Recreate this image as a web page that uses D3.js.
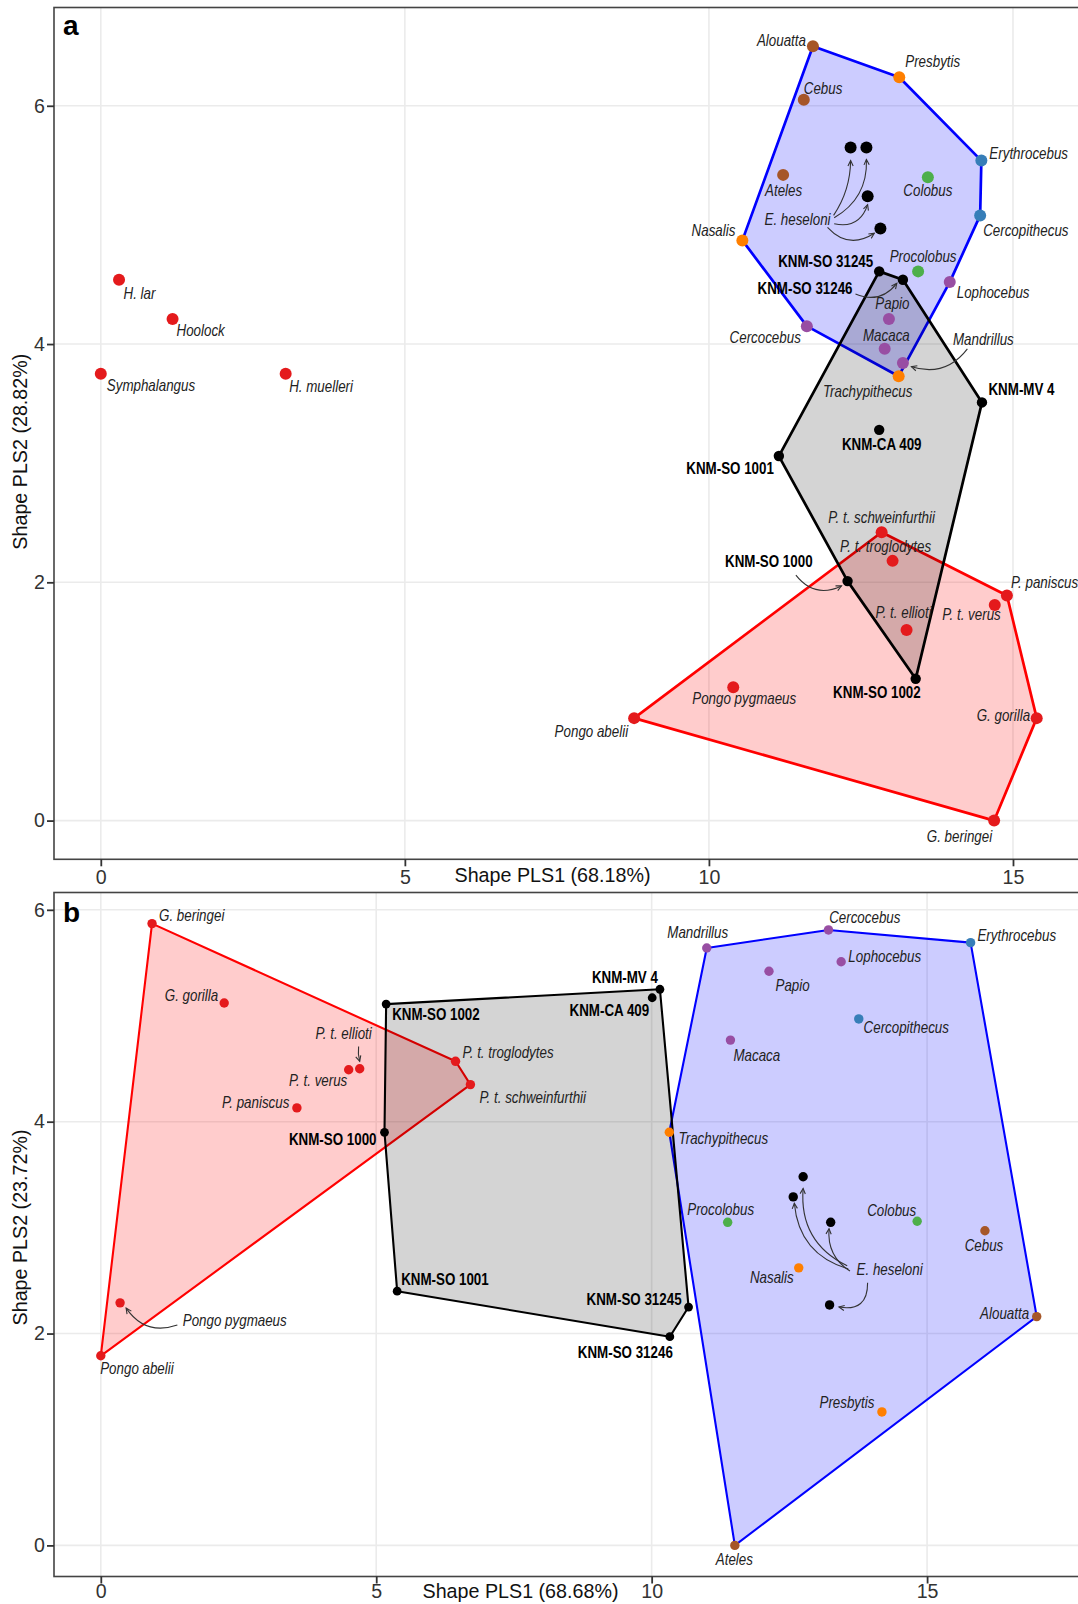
<!DOCTYPE html>
<html>
<head>
<meta charset="utf-8">
<script src="https://cdn.jsdelivr.net/npm/d3@7"></script>
<style>
  html, body { margin: 0; padding: 0; background: #ffffff; }
  svg { display: block; }
</style>
</head>
<body>
<svg id="fig" width="1078" height="1604"></svg>
<script>
// ---------------- Panel a: Shape PLS scores ----------------
const taxaA = [
  "H. lar", "Hoolock", "Symphalangus", "H. muelleri",
  "Pongo abelii", "Pongo pygmaeus", "G. gorilla", "G. beringei", "P. paniscus",
  "P. t. verus", "P. t. ellioti", "P. t. troglodytes", "P. t. schweinfurthii",
  "Alouatta", "Cebus", "Ateles",
  "Presbytis", "Nasalis", "Trachypithecus", "Colobus", "Procolobus",
  "Erythrocebus", "Cercopithecus",
  "Lophocebus", "Papio", "Cercocebus", "Macaca", "Mandrillus",
  "E. heseloni", "E. heseloni", "E. heseloni", "E. heseloni",
  "KNM-SO 31245", "KNM-SO 31246", "KNM-MV 4", "KNM-CA 409",
  "KNM-SO 1001", "KNM-SO 1000", "KNM-SO 1002"
];
const pls1A = [
  0.30, 1.18, 0.00, 3.04,
  8.77, 10.40, 15.39, 14.69, 14.90,
  14.70, 13.25, 13.02, 12.84,
  11.71, 11.56, 11.22,
  13.13, 10.55, 13.12, 13.60, 13.44,
  14.48, 14.46,
  13.96, 12.96, 11.61, 12.89, 13.19,
  12.33, 12.59, 12.61, 12.82,
  12.80, 13.19, 14.49, 12.80,
  11.15, 12.28, 13.40
];
const pls2A = [
  4.54, 4.21, 3.75, 3.75,
  0.86, 1.12, 0.86, 0.00, 1.89,
  1.81, 1.60, 2.18, 2.42,
  6.50, 6.05, 5.42,
  6.24, 4.87, 3.73, 5.40, 4.61,
  5.54, 5.08,
  4.52, 4.21, 4.15, 3.96, 3.84,
  5.65, 5.65, 5.24, 4.97,
  4.61, 4.54, 3.51, 3.28,
  3.06, 2.01, 1.19
];
const groupA = [
  "gibbon", "gibbon", "gibbon", "gibbon",
  "ape", "ape", "ape", "ape", "ape",
  "ape", "ape", "ape", "ape",
  "platyrrhine", "platyrrhine", "platyrrhine",
  "asianColobine", "asianColobine", "asianColobine", "africanColobine", "africanColobine",
  "cercopithecin", "cercopithecin",
  "papionin", "papionin", "papionin", "papionin", "papionin",
  "heseloni", "heseloni", "heseloni", "heseloni",
  "miocene", "miocene", "miocene", "miocene",
  "miocene", "miocene", "miocene"
];

// ---------------- Panel b: Shape PLS scores ----------------
const taxaB = [
  "G. beringei", "G. gorilla", "P. t. troglodytes", "P. t. schweinfurthii",
  "P. t. ellioti", "P. t. verus", "P. paniscus", "Pongo pygmaeus", "Pongo abelii",
  "Mandrillus", "Cercocebus", "Erythrocebus", "Lophocebus", "Papio",
  "Cercopithecus", "Macaca", "Trachypithecus", "Procolobus", "Colobus",
  "Cebus", "Nasalis", "Alouatta", "Presbytis", "Ateles",
  "E. heseloni", "E. heseloni", "E. heseloni", "E. heseloni",
  "KNM-SO 1002", "KNM-SO 1000", "KNM-SO 1001", "KNM-MV 4", "KNM-CA 409",
  "KNM-SO 31245", "KNM-SO 31246"
];
const pls1B = [
  0.93, 2.24, 6.44, 6.71,
  4.70, 4.50, 3.56, 0.35, 0.00,
  11.00, 13.21, 15.79, 13.44, 12.13,
  13.76, 11.43, 10.32, 11.38, 14.82,
  16.05, 12.67, 16.99, 14.18, 11.51,
  12.75, 12.57, 13.25, 13.23,
  5.18, 5.15, 5.38, 10.15, 10.01,
  10.67, 10.33
];
const pls2B = [
  5.87, 5.12, 4.57, 4.35,
  4.50, 4.49, 4.13, 2.29, 1.79,
  5.64, 5.81, 5.69, 5.51, 5.42,
  4.97, 4.77, 3.90, 3.05, 3.06,
  2.97, 2.62, 2.16, 1.26, 0.00,
  3.48, 3.29, 3.05, 2.27,
  5.11, 3.90, 2.40, 5.25, 5.17,
  2.25, 1.97
];
const groupB = [
  "ape", "ape", "ape", "ape",
  "ape", "ape", "ape", "ape", "ape",
  "papionin", "papionin", "cercopithecin", "papionin", "papionin",
  "cercopithecin", "papionin", "asianColobine", "africanColobine", "africanColobine",
  "platyrrhine", "asianColobine", "platyrrhine", "asianColobine", "platyrrhine",
  "heseloni", "heseloni", "heseloni", "heseloni",
  "miocene", "miocene", "miocene", "miocene", "miocene",
  "miocene", "miocene"
];

// Axis ticks and titles
const xTicks = [0, 5, 10, 15];
const yTicks = [0, 2, 4, 6];
const xTitleA = "Shape PLS1 (68.18%)";
const yTitleA = "Shape PLS2 (28.82%)";
const xTitleB = "Shape PLS1 (68.68%)";
const yTitleB = "Shape PLS2 (23.72%)";

// ---------------- styling ----------------
const pointColour = {
  gibbon: "#e41a1c", ape: "#e41a1c",
  asianColobine: "#ff7f00", africanColobine: "#4daf4a",
  papionin: "#984ea3", cercopithecin: "#377eb8",
  platyrrhine: "#a65628", heseloni: "#000000", miocene: "#000000"
};
const hulls = [
  { groups: ["ape"], fill: "rgba(255,0,0,0.2)", stroke: "#ff0000" },
  { groups: ["platyrrhine", "asianColobine", "africanColobine", "papionin", "cercopithecin"],
    fill: "rgba(0,0,255,0.2)", stroke: "#0000ff" },
  { groups: ["miocene"], fill: "rgba(0,0,0,0.17)", stroke: "#000000" }
];

// Label placement: [anchor, dx, dy] in pixels from the point
const labelPosA = {
  "H. lar": ["start", 4.5, 19], "Hoolock": ["start", 4, 17],
  "Symphalangus": ["start", 6, 17.5], "H. muelleri": ["start", 3.5, 18],
  "Alouatta": ["end", -7, 0], "Presbytis": ["start", 6, -10], "Cebus": ["start", 0, -6],
  "Erythrocebus": ["start", 8, -1.5], "Ateles": ["middle", 0.5, 21], "Colobus": ["middle", 0, 18.5],
  "Cercopithecus": ["start", 3, 20.5], "Nasalis": ["end", -7, -4],
  "KNM-SO 31245": ["end", -6, -4.5], "KNM-SO 31246": ["end", -50.4, 14.6],
  "Procolobus": ["middle", 5, -9], "Lophocebus": ["start", 7, 15.7], "Papio": ["middle", 3.5, -10],
  "Cercocebus": ["end", -6, 16.4], "Macaca": ["middle", 1.7, -8.3], "Mandrillus": ["start", 50, -18],
  "Trachypithecus": ["middle", -31, 21], "KNM-MV 4": ["start", 6.5, -7], "KNM-CA 409": ["middle", 2.5, 20],
  "KNM-SO 1001": ["end", -5, 18], "P. t. schweinfurthii": ["middle", 0, -9.6],
  "P. t. troglodytes": ["middle", -7, -9.3], "KNM-SO 1000": ["end", -35, -14.3],
  "P. paniscus": ["start", 4, -7.6], "P. t. verus": ["end", 6, 15], "P. t. ellioti": ["middle", -3, -11.7],
  "KNM-SO 1002": ["end", 5, 19.4], "Pongo pygmaeus": ["middle", 11, 17.3],
  "Pongo abelii": ["end", -6, 19], "G. gorilla": ["end", -6.6, 2.7], "G. beringei": ["end", -2, 21]
};
const labelPosB = {
  "G. beringei": ["start", 7, -3], "G. gorilla": ["end", -6, -1.6], "KNM-SO 1002": ["start", 6, 15.7],
  "P. t. ellioti": ["middle", -16, -30], "P. t. verus": ["end", -1.4, 16.4], "P. paniscus": ["end", -7.5, 0.3],
  "P. t. troglodytes": ["start", 7, -3], "P. t. schweinfurthii": ["start", 9, 18.3],
  "KNM-SO 1000": ["end", -8, 12.7], "KNM-SO 1001": ["start", 4, -6],
  "Pongo pygmaeus": ["start", 62.7, 22.7], "Pongo abelii": ["start", -0.6, 18.3],
  "Mandrillus": ["middle", -9, -10.4], "Cercocebus": ["start", 0.7, -6.7], "Erythrocebus": ["start", 6.8, -1.3],
  "Lophocebus": ["start", 7.2, 0], "Papio": ["start", 6.5, 19.7], "KNM-MV 4": ["end", -2, -6],
  "KNM-CA 409": ["end", -3, 18.4], "Cercopithecus": ["start", 4.8, 14.3], "Macaca": ["start", 3, 21],
  "Trachypithecus": ["start", 9.3, 12], "Procolobus": ["middle", -7, -7.7], "Colobus": ["end", -1, -5.7],
  "Cebus": ["middle", -1, 20.7], "Nasalis": ["end", -5, 15.6], "KNM-SO 31245": ["end", -7, -2],
  "KNM-SO 31246": ["end", 3, 21.6], "Alouatta": ["end", -7.6, 2.6], "Presbytis": ["end", -7.5, -3.7],
  "Ateles": ["middle", -0.5, 19.7]
};

// Free-standing labels and curved leader arrows (data units)
const notesA = [{ text: "E. heseloni", x: 12.0, y: 5.00, anchor: "end" }];
const notesB = [{ text: "E. heseloni", x: 13.72, y: 2.55, anchor: "start" }];
const arrowsA = [
  { x1: 12.05, y1: 5.08, x2: 12.33, y2: 5.54, c: 0.15 },
  { x1: 12.06, y1: 5.06, x2: 12.59, y2: 5.55, c: 0.3 },
  { x1: 12.06, y1: 5.01, x2: 12.61, y2: 5.17, c: 0.45 },
  { x1: 11.95, y1: 4.98, x2: 12.72, y2: 4.93, c: 0.42 },
  { x1: 12.41, y1: 4.42, x2: 13.09, y2: 4.51, c: 0.38 },
  { x1: 14.25, y1: 3.96, x2: 13.33, y2: 3.81, c: -0.35 },
  { x1: 11.43, y1: 2.06, x2: 12.18, y2: 1.97, c: 0.4 }
];
const arrowsB = [
  { x1: 4.68, y1: 4.71, x2: 4.70, y2: 4.57, c: 0.1 },
  { x1: 1.39, y1: 2.08, x2: 0.46, y2: 2.24, c: -0.38 },
  { x1: 13.55, y1: 2.64, x2: 12.75, y2: 3.37, c: -0.34 },
  { x1: 13.57, y1: 2.61, x2: 12.59, y2: 3.23, c: -0.34 },
  { x1: 13.60, y1: 2.59, x2: 13.22, y2: 2.99, c: -0.3 },
  { x1: 13.92, y1: 2.48, x2: 13.40, y2: 2.25, c: -0.6 }
];

const svg = d3.select("#fig");
const FONT = "'Liberation Sans', Arial, Helvetica, sans-serif";

function padded(vals) {
  const [lo, hi] = d3.extent(vals);
  const p = (hi - lo) * 0.05;
  return [lo - p, hi + p];
}

function curveArrow(g, x1, y1, x2, y2, c) {
  const mx = (x1 + x2) / 2, my = (y1 + y2) / 2;
  const dx = x2 - x1, dy = y2 - y1;
  const cx = mx - c * dy, cy = my + c * dx;
  const p = d3.path();
  p.moveTo(x1, y1);
  p.quadraticCurveTo(cx, cy, x2, y2);
  g.append("path").attr("d", p.toString())
    .attr("fill", "none").attr("stroke", "#333").attr("stroke-width", 1.1);
  const ang = Math.atan2(y2 - cy, x2 - cx), L = 6, a = Math.PI / 7;
  const h = d3.path();
  h.moveTo(x2 - L * Math.cos(ang - a), y2 - L * Math.sin(ang - a));
  h.lineTo(x2, y2);
  h.lineTo(x2 - L * Math.cos(ang + a), y2 - L * Math.sin(ang + a));
  g.append("path").attr("d", h.toString())
    .attr("fill", "none").attr("stroke", "#333").attr("stroke-width", 1.1);
}

function label(g, x, y, txt, anchor) {
  const bold = txt.startsWith("KNM");
  g.append("text")
    .attr("transform", `translate(${x},${y}) scale(0.82,1)`)
    .attr("text-anchor", anchor)
    .attr("font-family", FONT)
    .attr("font-size", 16.3)
    .attr("font-style", bold ? "normal" : "italic")
    .attr("font-weight", bold ? "bold" : "normal")
    .attr("fill", bold ? "#000" : "#222")
    .text(txt);
}

function drawPanel(cfg) {
  const { taxa, pls1, pls2, group, top, bottom, tag, tagY, xTitle, xTitleX, yTitle, yTitleY,
          labelPos, notes, arrows, r, rFossil, lineW, tickPad, titleY, id } = cfg;
  const left = 54, right = 1083.5;
  const x = d3.scaleLinear().domain(padded(pls1)).range([left, right]);
  const y = d3.scaleLinear().domain(padded(pls2)).range([bottom, top]);
  const pts = taxa.map((t, i) => ({ t, g: group[i], px: x(pls1[i]), py: y(pls2[i]) }));

  svg.append("clipPath").attr("id", id)
    .append("rect").attr("x", left).attr("y", top).attr("width", right - left).attr("height", bottom - top);
  const g = svg.append("g").attr("clip-path", `url(#${id})`);

  // grid
  g.selectAll(".gx").data(xTicks).join("line")
    .attr("x1", d => x(d)).attr("x2", d => x(d)).attr("y1", top).attr("y2", bottom)
    .attr("stroke", "#ebebeb").attr("stroke-width", 1.6);
  g.selectAll(".gy").data(yTicks).join("line")
    .attr("y1", d => y(d)).attr("y2", d => y(d)).attr("x1", left).attr("x2", right)
    .attr("stroke", "#ebebeb").attr("stroke-width", 1.6);

  // convex hulls
  hulls.forEach(h => {
    const members = pts.filter(p => h.groups.includes(p.g)).map(p => [p.px, p.py]);
    const hull = d3.polygonHull(members);
    if (!hull) return;
    g.append("path").attr("d", "M" + hull.join("L") + "Z")
      .attr("fill", h.fill).attr("stroke", h.stroke)
      .attr("stroke-width", lineW).attr("stroke-linejoin", "round");
  });

  // leader arrows
  arrows.forEach(a => curveArrow(g, x(a.x1), y(a.y1), x(a.x2), y(a.y2), a.c));

  // points
  g.selectAll(".pt").data(pts).join("circle")
    .attr("cx", d => d.px).attr("cy", d => d.py)
    .attr("r", d => d.g === "miocene" ? rFossil : r)
    .attr("fill", d => pointColour[d.g]);

  // labels
  pts.forEach(p => {
    const lp = labelPos[p.t];
    if (!lp) return;
    label(g, p.px + lp[1], p.py + lp[2], p.t, lp[0]);
  });
  notes.forEach(n => label(g, x(n.x), y(n.y), n.text, n.anchor));

  // panel border
  svg.append("rect").attr("x", left).attr("y", top).attr("width", right - left).attr("height", bottom - top)
    .attr("fill", "none").attr("stroke", "#444").attr("stroke-width", 1.6);

  // axes
  const ax = svg.append("g").attr("transform", `translate(0,${bottom})`)
    .call(d3.axisBottom(x).tickValues(xTicks).tickSize(7).tickPadding(tickPad).tickFormat(d3.format("d")));
  const ay = svg.append("g").attr("transform", `translate(${left},0)`)
    .call(d3.axisLeft(y).tickValues(yTicks).tickSize(7).tickPadding(2).tickFormat(d3.format("d")));
  [ax, ay].forEach(a => {
    a.select(".domain").remove();
    a.selectAll(".tick line").attr("stroke", "#333").attr("stroke-width", 1.8);
    a.selectAll(".tick text").attr("fill", "#333").attr("font-family", FONT).attr("font-size", 19.6);
  });

  // axis titles
  svg.append("text").attr("x", xTitleX).attr("y", titleY).attr("text-anchor", "middle")
    .attr("font-family", FONT).attr("font-size", 19.7).attr("fill", "#111").text(xTitle);
  svg.append("text").attr("transform", `translate(26.5,${yTitleY}) rotate(-90)`).attr("text-anchor", "middle")
    .attr("font-family", FONT).attr("font-size", 19.7).attr("fill", "#111").text(yTitle);

  // panel tag
  svg.append("text").attr("x", 63).attr("y", tagY)
    .attr("font-family", FONT).attr("font-size", 28).attr("font-weight", "bold").attr("fill", "#000").text(tag);
}

drawPanel({
  id: "clipA", taxa: taxaA, pls1: pls1A, pls2: pls2A, group: groupA,
  top: 7.5, bottom: 859.3, tag: "a", tagY: 35,
  xTitle: xTitleA, xTitleX: 552.5, titleY: 882, yTitle: yTitleA, yTitleY: 451.7,
  labelPos: labelPosA, notes: notesA, arrows: arrowsA,
  r: 6, rFossil: 5.2, lineW: 2.7, tickPad: 4
});
drawPanel({
  id: "clipB", taxa: taxaB, pls1: pls1B, pls2: pls2B, group: groupB,
  top: 892.5, bottom: 1576.5, tag: "b", tagY: 921.7,
  xTitle: xTitleB, xTitleX: 520.5, titleY: 1598, yTitle: yTitleB, yTitleY: 1227.5,
  labelPos: labelPosB, notes: notesB, arrows: arrowsB,
  r: 4.7, rFossil: 4.4, lineW: 2.1, tickPad: 1
});
</script>
</body>
</html>
